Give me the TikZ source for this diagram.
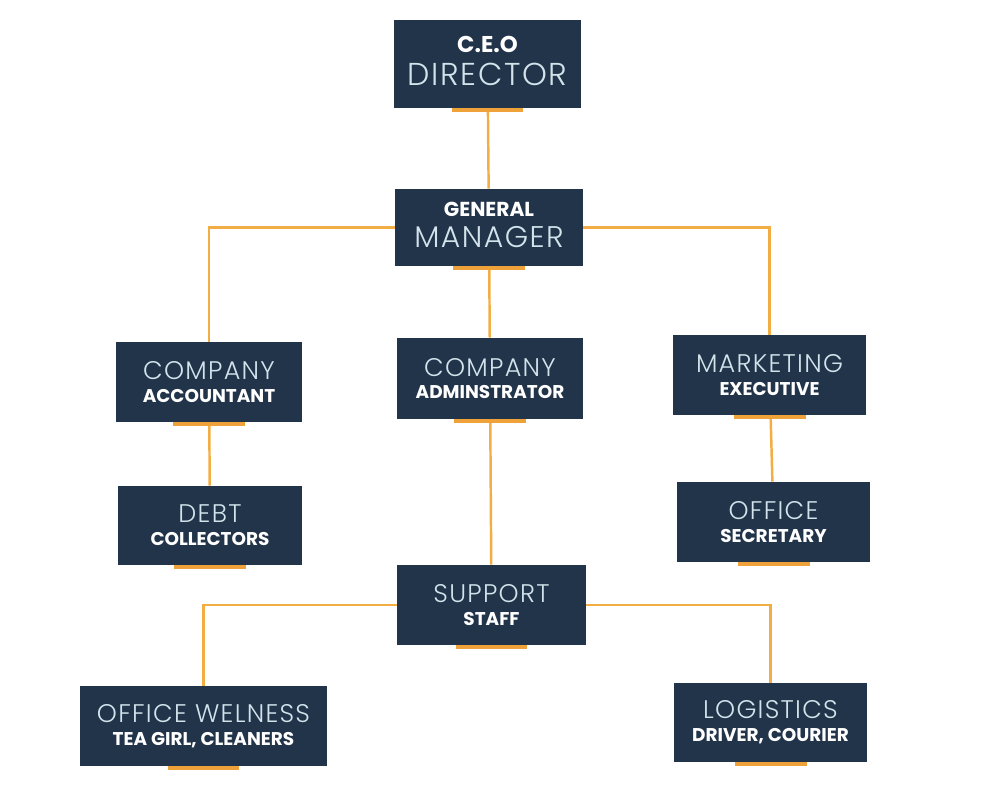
\documentclass[tikz,border=0pt]{standalone}
\usepackage{fontspec}
\setmainfont{Poppins}
\newfontfamily\thinfont{Poppins Light}[LetterSpace=5]
\usepackage{xcolor}
\usepackage{tikz}
\usetikzlibrary{backgrounds}

\definecolor{boxblue}{HTML}{22344A}
\definecolor{barorange}{HTML}{F0A23A}
\definecolor{lineorange}{HTML}{F2AE45}
\definecolor{paletext}{HTML}{D3E3EC}

\newcommand{\thinln}[2][14.5]{{\thinfont\fontsize{#1}{#1}\selectfont\color{paletext}#2}}
\newcommand{\boldln}[2][10.5]{{\bfseries\fontsize{#1}{#1}\selectfont #2}}

\tikzset{
  orgbox/.style={fill=boxblue, text=white, align=center, inner sep=0pt},
  link/.style={draw=lineorange, line width=1.4pt}
}

\begin{document}
\begin{tikzpicture}[x=0.02cm, y=-0.02cm]
\useasboundingbox (0,0) rectangle (1004,785);

% boxes
\node[orgbox, minimum width=3.74cm, minimum height=1.76cm] (ceo) at (487.5,64)
  {\boldln[13]{C.E.O}\\[5pt]\thinln[18]{DIRECTOR}\rule[-4pt]{0pt}{4pt}};
\node[orgbox, minimum width=3.76cm, minimum height=1.54cm] (gm) at (489,227.5)
  {\boldln[11.5]{GENERAL}\\[5pt]\thinln[17]{MANAGER}\rule[-3pt]{0pt}{3pt}};

\node[orgbox, minimum width=3.72cm, minimum height=1.6cm] (acc) at (209,382)
  {\thinln{COMPANY}\\[1pt]\boldln{ACCOUNTANT}};
\node[orgbox, minimum width=3.72cm, minimum height=1.62cm] (adm) at (490,378.5)
  {\thinln{COMPANY}\\[1pt]\boldln{ADMINSTRATOR}};
\node[orgbox, minimum width=3.86cm, minimum height=1.6cm] (mkt) at (769.5,375)
  {\thinln{MARKETING}\\[1pt]\boldln{EXECUTIVE}};

\node[orgbox, minimum width=3.68cm, minimum height=1.58cm] (debt) at (210,525.5)
  {\thinln{DEBT}\\[1pt]\boldln{COLLECTORS}};
\node[orgbox, minimum width=3.86cm, minimum height=1.6cm] (sec) at (773.5,522)
  {\thinln{OFFICE}\\[1pt]\boldln{SECRETARY}};

\node[orgbox, minimum width=3.78cm, minimum height=1.6cm] (sup) at (491.5,605)
  {\thinln{SUPPORT}\\[1pt]\boldln{STAFF}};

\node[orgbox, minimum width=4.94cm, minimum height=1.6cm] (wel) at (203.5,726)
  {\thinln{OFFICE WELNESS}\\[1pt]\boldln{TEA GIRL, CLEANERS}};
\node[orgbox, minimum width=3.86cm, minimum height=1.58cm] (log) at (770.5,722.5)
  {\thinln{LOGISTICS}\\[1pt]\boldln{DRIVER, COURIER}};

% orange bars under the boxes
\foreach \b in {ceo,gm,acc,adm,mkt,debt,sec,sup,wel,log}
  \fill[barorange] ([xshift=-0.72cm]\b.south) rectangle ([xshift=0.72cm,yshift=-0.08cm]\b.south);

% connectors
\begin{scope}[on background layer]
\draw[link] (ceo) -- (gm);
\draw[link] (gm) -| (acc);
\draw[link] (gm) -| (mkt);
\draw[link] (gm) -- (adm);
\draw[link] (acc) -- (debt);
\draw[link] (adm) -- (sup);
\draw[link] (mkt) -- (sec);
\draw[link] (sup) -| (wel);
\draw[link] (sup) -| (log);
\end{scope}
\end{tikzpicture}
\end{document}
